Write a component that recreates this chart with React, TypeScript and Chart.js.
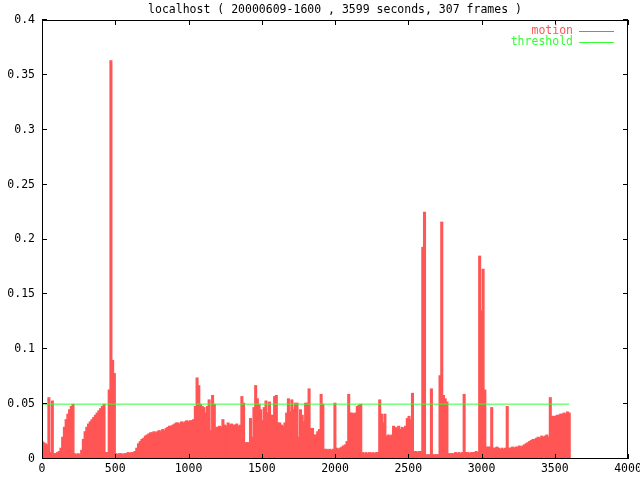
import React, { useEffect, useRef } from "react";
import { Chart, registerables } from "chart.js";

Chart.register(...registerables);

const TITLE = "localhost ( 20000609-1600 , 3599 seconds, 307 frames )";
const DURATION_SECONDS = 3599;
const THRESHOLD = 0.05;
const SERIES_LABELS = ["motion", "threshold"];
const X_TICKS = [0, 500, 1000, 1500, 2000, 2500, 3000, 3500, 4000];
const Y_TICKS = [0, 0.05, 0.1, 0.15, 0.2, 0.25, 0.3, 0.35, 0.4];

// motion value of each of the 307 frames
const MOTION = [
  0.016, 0.015, 0.014, 0.013, 0.056,
  0.006, 0.053, 0.005, 0.005, 0.006,
  0.007, 0.010, 0.020, 0.029, 0.036,
  0.041, 0.045, 0.048, 0.050, 0.005,
  0.004, 0.005, 0.004, 0.008, 0.018,
  0.025, 0.029, 0.032, 0.034, 0.036,
  0.038, 0.040, 0.042, 0.044, 0.046,
  0.048, 0.050, 0.006, 0.006, 0.063,
  0.363, 0.090, 0.078, 0.005, 0.004,
  0.005, 0.005, 0.004, 0.005, 0.005,
  0.006, 0.005, 0.006, 0.006, 0.007,
  0.010, 0.014, 0.016, 0.018, 0.019,
  0.021, 0.022, 0.023, 0.024, 0.024,
  0.025, 0.024, 0.025, 0.026, 0.025,
  0.027, 0.026, 0.028, 0.029, 0.030,
  0.030, 0.031, 0.032, 0.033, 0.033,
  0.032, 0.034, 0.033, 0.034, 0.035,
  0.034, 0.035, 0.035, 0.036, 0.048,
  0.074, 0.067, 0.050, 0.048, 0.047,
  0.042, 0.048, 0.054, 0.026, 0.058,
  0.050, 0.029, 0.029, 0.030, 0.029,
  0.036, 0.031, 0.030, 0.033, 0.031,
  0.032, 0.031, 0.031, 0.032, 0.030,
  0.031, 0.057, 0.051, 0.015, 0.015,
  0.015, 0.037, 0.020, 0.047, 0.067,
  0.055, 0.050, 0.045, 0.035, 0.047,
  0.053, 0.042, 0.052, 0.040, 0.040,
  0.057, 0.058, 0.033, 0.033, 0.031,
  0.030, 0.033, 0.042, 0.055, 0.043,
  0.054, 0.045, 0.051, 0.051, 0.020,
  0.045, 0.040, 0.034, 0.051, 0.051,
  0.064, 0.028, 0.028, 0.022, 0.022,
  0.025, 0.027, 0.059, 0.050, 0.009,
  0.009, 0.008, 0.009, 0.008, 0.009,
  0.051, 0.010, 0.009, 0.010, 0.011,
  0.012, 0.013, 0.016, 0.059, 0.042,
  0.042, 0.041, 0.042, 0.048, 0.049,
  0.050, 0.006, 0.005, 0.006, 0.005,
  0.006, 0.005, 0.006, 0.005, 0.006,
  0.006, 0.054, 0.041, 0.033, 0.041,
  0.021, 0.022, 0.021, 0.022, 0.030,
  0.029, 0.028, 0.030, 0.027, 0.029,
  0.028, 0.030, 0.037, 0.039, 0.036,
  0.060, 0.007, 0.007, 0.006, 0.007,
  0.007, 0.193, 0.225, 0.004, 0.004,
  0.004, 0.064, 0.004, 0.004, 0.004,
  0.004, 0.076, 0.216, 0.058, 0.055,
  0.052, 0.005, 0.005, 0.005, 0.005,
  0.006, 0.005, 0.006, 0.005, 0.006,
  0.059, 0.006, 0.006, 0.005, 0.006,
  0.006, 0.006, 0.007, 0.006, 0.185,
  0.135, 0.173, 0.063, 0.011, 0.011,
  0.011, 0.047, 0.010, 0.010, 0.011,
  0.010, 0.009, 0.010, 0.009, 0.010,
  0.048, 0.010, 0.010, 0.011, 0.010,
  0.011, 0.011, 0.012, 0.011, 0.012,
  0.013, 0.014, 0.015, 0.016, 0.017,
  0.018, 0.018, 0.019, 0.020, 0.019,
  0.021, 0.020, 0.021, 0.022, 0.020,
  0.056, 0.039, 0.039, 0.039, 0.040,
  0.040, 0.041, 0.041, 0.042, 0.041,
  0.043, 0.042,
];

const RED = "#ff5555";
const GREEN = "#33ff33";
const FONT = "'DejaVu Sans Mono', 'Liberation Mono', monospace";
const FONT_SIZE = 11.5;

const gnuplotFrame = {
  id: "gnuplotFrame",
  afterDatasetsDraw(chart: any) {
    const { ctx, chartArea, scales } = chart;
    const { left, right, top, bottom } = chartArea;
    const xs = scales.x;
    const ys = scales.y;
    ctx.save();
    ctx.strokeStyle = "#000";
    ctx.lineWidth = 1;
    ctx.strokeRect(left + 0.5, top + 0.5, right - left - 1, bottom - top - 1);
    const t = 5;
    ctx.beginPath();
    for (const v of Y_TICKS) {
      const py = Math.round(ys.getPixelForValue(v)) - 0.5;
      ctx.moveTo(left, py);
      ctx.lineTo(left + t, py);
      ctx.moveTo(right, py);
      ctx.lineTo(right - t, py);
    }
    for (const v of X_TICKS) {
      const px = Math.round(xs.getPixelForValue(v)) + 0.5;
      ctx.moveTo(px, bottom);
      ctx.lineTo(px, bottom - t);
      ctx.moveTo(px, top);
      ctx.lineTo(px, top + t);
    }
    ctx.stroke();

    ctx.font = `${FONT_SIZE}px ${FONT}`;
    ctx.textBaseline = "middle";
    // title
    ctx.fillStyle = "#000";
    ctx.textAlign = "center";
    ctx.fillText(TITLE, (left + right) / 2, 10);

    // legend
    const colors = [RED, GREEN];
    const textRight = right - 55;
    SERIES_LABELS.forEach((label, i) => {
      const ly = top + 11 + i * 11;
      ctx.fillStyle = colors[i];
      ctx.textAlign = "right";
      ctx.fillText(label, textRight, ly);
      ctx.strokeStyle = colors[i];
      ctx.lineWidth = 1;
      ctx.beginPath();
      ctx.moveTo(textRight + 6, Math.round(ly) + 0.5);
      ctx.lineTo(textRight + 41, Math.round(ly) + 0.5);
      ctx.stroke();
    });
    ctx.restore();
  },
};

export default function App() {
  const ref = useRef<HTMLCanvasElement | null>(null);
  useEffect(() => {
    if (!ref.current) return;
    const step = DURATION_SECONDS / (MOTION.length - 1);
    const motionData = MOTION.map((v, i) => ({ x: i * step, y: v }));
    const thresholdData = [
      { x: 0, y: THRESHOLD },
      { x: DURATION_SECONDS, y: THRESHOLD },
    ];
    const chart = new Chart(ref.current, {
      type: "bar",
      data: {
        datasets: [
          {
            type: "bar",
            label: SERIES_LABELS[0],
            data: motionData as any,
            backgroundColor: RED,
            borderWidth: 0,
            barThickness: 2.4,
            order: 1,
          } as any,
          {
            type: "line",
            label: SERIES_LABELS[1],
            data: thresholdData as any,
            borderColor: GREEN,
            borderWidth: 1,
            pointRadius: 0,
            fill: false,
            order: 0,
          } as any,
        ],
      },
      plugins: [gnuplotFrame],
      options: {
        animation: false,
        responsive: false,
        devicePixelRatio: 1,
        layout: { padding: { top: 20, right: 12, left: 0, bottom: 0 } },
        plugins: {
          legend: { display: false },
          tooltip: { enabled: false },
          title: { display: false },
        },
        scales: {
          x: {
            type: "linear",
            min: 0,
            max: 4000,
            offset: false,
            afterBuildTicks: (scale: any) => {
              scale.ticks = X_TICKS.map((v) => ({ value: v }));
            },
            afterFit: (scale: any) => {
              scale.height = 21;
              scale.paddingLeft = 0;
              scale.paddingRight = 0;
            },
            grid: { display: false, drawTicks: false },
            border: { display: false },
            ticks: {
              color: "#000",
              font: { family: FONT, size: FONT_SIZE },
              padding: 3,
              maxRotation: 0,
              autoSkip: false,
              callback: (v: any) => String(v),
            },
          },
          y: {
            type: "linear",
            min: 0,
            max: 0.4,
            afterBuildTicks: (scale: any) => {
              scale.ticks = Y_TICKS.map((v) => ({ value: v }));
            },
            afterFit: (scale: any) => {
              scale.width = 42;
              scale.paddingTop = 0;
              scale.paddingBottom = 0;
            },
            grid: { display: false, drawTicks: false },
            border: { display: false },
            ticks: {
              color: "#000",
              font: { family: FONT, size: FONT_SIZE },
              padding: 7,
              autoSkip: false,
              callback: (v: any) => String(Number(Number(v).toFixed(2))),
            },
          },
        },
      },
    });
    return () => chart.destroy();
  }, []);
  return (
    <div style={{ position: "absolute", left: 0, top: 0, width: 640, height: 480, background: "#fff" }}>
      <canvas ref={ref} width={640} height={480} />
    </div>
  );
}
